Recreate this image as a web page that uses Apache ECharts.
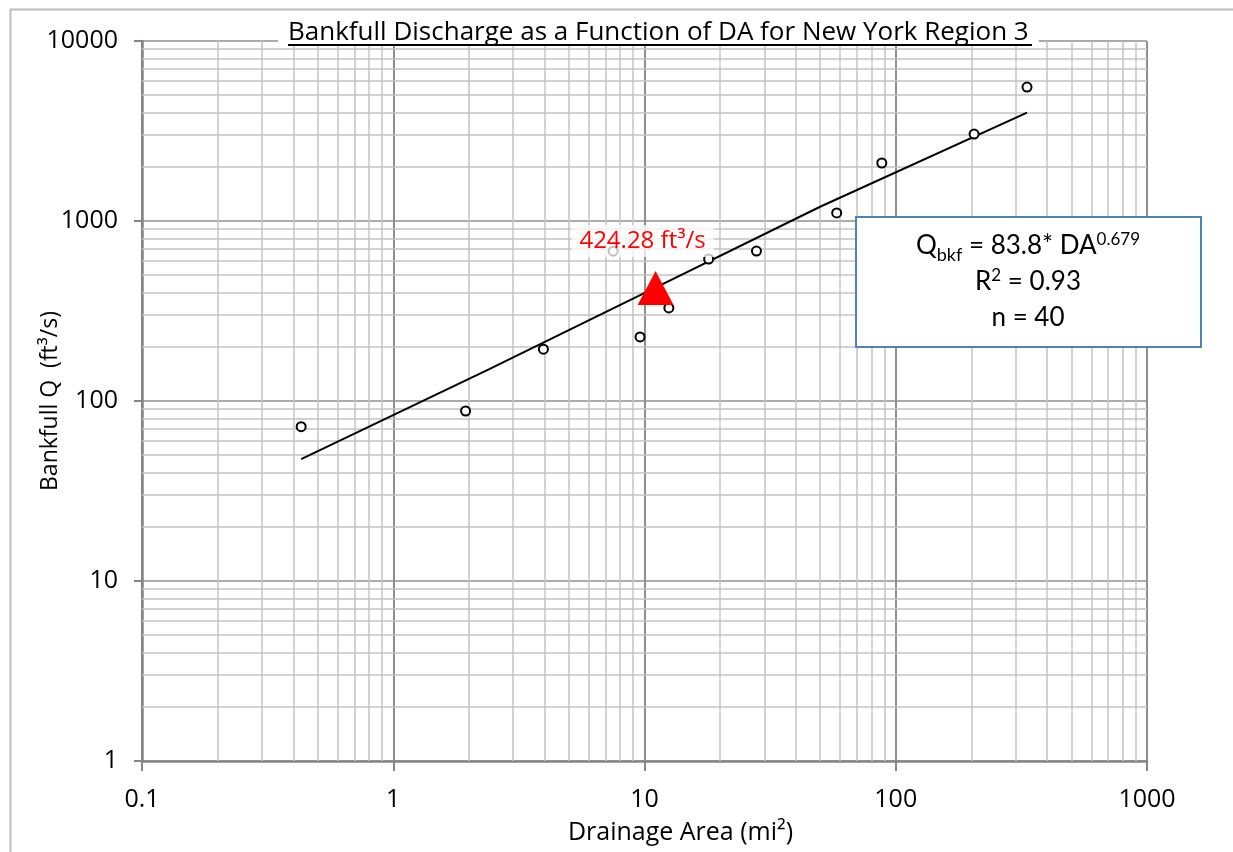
<!DOCTYPE html>
<html>
<head>
<meta charset="utf-8">
<script src="https://cdn.jsdelivr.net/npm/echarts@6/dist/echarts.min.js"></script>
<style>
  html, body { margin: 0; padding: 0; background: #fff; }
  #main { width: 1233px; height: 852px; }
</style>
</head>
<body>
<div id="main"></div>
<script>
// observed sites (drainage area mi², bankfull Q ft³/s)
var siteDA = [0.43, 1.94, 3.96, 7.5, 9.6, 12.5, 18.0, 27.9, 58.2, 88, 205, 333];
var siteQ = [72, 88, 194, 680, 227, 329, 615, 681, 1108, 2100, 3040, 5550];

// regression line
var trendDA = [0.43, 2.4, 10.8, 50, 333];
var trendQ = [47.5, 150, 420, 1200, 4000];

// the red marker
var markDA = [11.07];
var markQ = [424.28];
var markText = "424.28 ft³/s";

var xDecades = [0.1, 1, 10, 100, 1000];
var yDecades = [1, 10, 100, 1000, 10000];

function minorValues(decades) {
  var out = [];
  for (var i = 0; i < decades.length - 1; i++) {
    for (var k = 2; k <= 9; k++) out.push(+(decades[i] * k).toPrecision(3));
  }
  return out;
}

var font = "'Open Sans', 'Liberation Sans', sans-serif";
var boxFont = "Lato, 'Liberation Sans', sans-serif";
var minorColor = "#c3c3c3";

var minorLines = [];
minorValues(xDecades).forEach(function (v) { minorLines.push({ xAxis: v }); });
minorValues(yDecades).forEach(function (v) { minorLines.push({ yAxis: v }); });

var chart = echarts.init(document.getElementById("main"));

var option = {
  animation: false,
  title: {
    text: "Bankfull Discharge as a Function of DA for New York Region 3",
    left: 278,
    top: 19,
    padding: [1, 10, 0, 10],
    backgroundColor: "#fff",
    textStyle: { fontFamily: font, fontSize: 26, fontWeight: "normal", color: "#000" },
  },
  grid: { left: 142, right: 86, top: 41, bottom: 91 },
  xAxis: {
    type: "log",
    logBase: 10,
    min: 0.1,
    max: 1000,
    name: "Drainage Area (mi²)",
    nameLocation: "middle",
    nameGap: 59,
    nameMoveOverlap: false,
    nameTextStyle: { fontFamily: font, fontSize: 25, color: "#000", padding: [0, 0, 0, 72] },
    axisLine: { lineStyle: { color: "#868686", width: 2.5 } },
    axisTick: { show: true, length: 10, lineStyle: { color: "#868686", width: 2 } },
    axisLabel: {
      fontFamily: font, fontSize: 25, color: "#000", margin: 26,
      formatter: function (v) { return String(+v.toPrecision(3)); },
    },
    splitLine: { show: true, lineStyle: { color: "#8f8f8f", width: 2 } },
  },
  yAxis: {
    type: "log",
    logBase: 10,
    min: 1,
    max: 10000,
    name: "Bankfull Q  (ft³/s)",
    nameLocation: "middle",
    nameRotate: 90,
    nameGap: 80,
    nameMoveOverlap: false,
    nameTextStyle: { fontFamily: font, fontSize: 23, color: "#000" },
    axisLine: { lineStyle: { color: "#868686", width: 2.5 } },
    axisTick: { show: true, length: 8, lineStyle: { color: "#868686", width: 2 } },
    axisLabel: {
      fontFamily: font, fontSize: 25, color: "#000", margin: 24,
      formatter: function (v) { return String(Math.round(v)); },
    },
    splitLine: { show: true, lineStyle: { color: "#ababab", width: 2 } },
  },
  series: [
    {
      type: "line",
      data: [],
      silent: true,
      markLine: {
        silent: true,
        symbol: "none",
        label: { show: false },
        lineStyle: { color: minorColor, width: 1.5, type: "solid" },
        emphasis: { disabled: true },
        data: minorLines,
        z: 1,
      },
    },
    {
      type: "line",
      data: trendDA.map(function (x, i) { return [x, trendQ[i]]; }),
      showSymbol: false,
      lineStyle: { color: "#000", width: 2 },
      z: 3,
    },
    {
      type: "scatter",
      data: siteDA.map(function (x, i) { return [x, siteQ[i]]; }),
      symbol: "emptyCircle",
      symbolSize: 9,
      itemStyle: { color: "#000", borderColor: "#000", borderWidth: 1.8, opacity: 1 },
      z: 4,
    },
    {
      type: "scatter",
      data: markDA.map(function (x, i) { return [x, markQ[i]]; }),
      symbol: "triangle",
      symbolSize: [36, 34],
      itemStyle: { color: "#ff0000", opacity: 1 },
      label: {
        show: true,
        position: "top",
        offset: [-13, -9],
        formatter: markText,
        fontFamily: font,
        fontSize: 24,
        color: "#ff0000",
        backgroundColor: "rgba(255,255,255,0.75)",
        padding: [4, 8, 4, 8],
      },
      z: 5,
    },
  ],
  graphic: [
    {
      type: "rect",
      left: 8, top: 7,
      shape: { width: 1240, height: 860 },
      style: { fill: "none", stroke: "#bdbdbd", lineWidth: 2 },
      silent: true,
    },
    {
      type: "line",
      shape: { x1: 288, y1: 45, x2: 1032, y2: 45 },
      style: { stroke: "#000", lineWidth: 2 },
      z: 100,
      silent: true,
    },
    {
      type: "rect",
      shape: { x: 856, y: 217, width: 345, height: 130 },
      style: { fill: "#fff", stroke: "#4f81bd", lineWidth: 2 },
      z: 100,
    },
    {
      type: "text",
      x: 1028,
      y: 282,
      z: 101,
      style: {
        text: "{m|Q}{sub|bkf}{m| = 83.8* DA}{sup|0.679}\n{m|R}{sup|2}{m| = 0.93}\n{m|n = 40}",
        align: "center",
        verticalAlign: "middle",
        fill: "#000",
        rich: {
          m: { fontFamily: boxFont, fontSize: 26, lineHeight: 36, fill: "#000" },
          sub: { fontFamily: boxFont, fontSize: 18, lineHeight: 36, fill: "#000", verticalAlign: "bottom" },
          sup: { fontFamily: boxFont, fontSize: 17, lineHeight: 36, fill: "#000", verticalAlign: "top", padding: [3, 0, 0, 0] },
        },
      },
    },
  ],
};

chart.setOption(option);
</script>
</body>
</html>
